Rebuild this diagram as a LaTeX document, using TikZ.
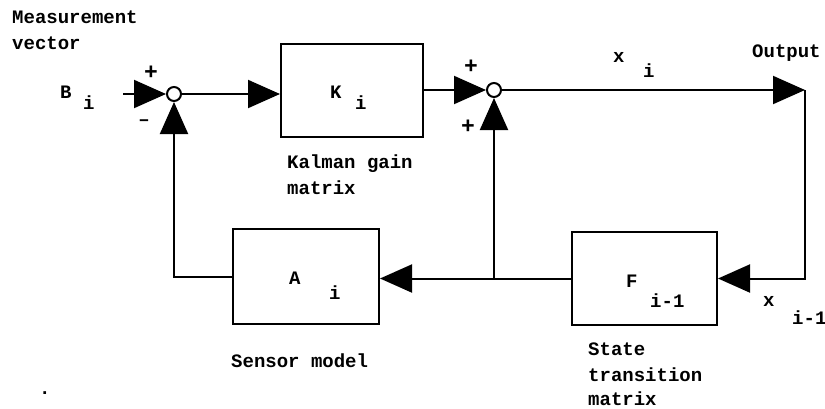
\documentclass[tikz,border=0pt]{standalone}
\usepackage{fontspec}
\newfontfamily\cour{Liberation Mono}
\usetikzlibrary{arrows.meta,calc}
\begin{document}
\begin{tikzpicture}[x=1pt,y=-1pt,
  every node/.style={font=\cour\bfseries\fontsize{19}{19}\selectfont, inner sep=0pt},
  ln/.style={line width=2pt},
  arr/.style={ln,-{Triangle[length=32pt,width=28pt]}},
  block/.style={draw,line width=2pt,anchor=north west},
  sum/.style={draw,circle,line width=2pt,minimum size=14pt,fill=white},
  sign/.style={font=\cour\bfseries\fontsize{23}{23}\selectfont},
  txt/.style={anchor=base west}]
\useasboundingbox (0,0) rectangle (825,408);
% blocks
\node[block,minimum width=142pt,minimum height=93pt] (K) at (280,43) {};
\node[block,minimum width=146pt,minimum height=95pt] (A) at (232,228) {};
\node[block,minimum width=145pt,minimum height=93pt] (F) at (571,231) {};
\node[sum] (s1) at (174,94) {};
\node[sum] (s2) at (494,90) {};
\coordinate (bin) at (123,94);
\coordinate (outc) at (805,90);
\coordinate (junc) at (s2 |- F.west);
% connectors
\draw[arr] (bin) -- (s1.west);
\draw[arr] (s1.east) -- (s1 -| K.west);
\draw[arr] (K.east |- s2) -- (s2.west);
\draw[arr] (s2.east) -- (outc);
\draw[arr] (outc) |- (F.east);
\draw[arr] (F.west) -- (F.west -| A.east);
\draw[arr] (junc) -- (s2.south);
\draw[arr] (A.west) -| (s1.south);
% texts
\node[txt] (t1) at (12,23) {Measurement};
\node[txt] (t2) at (12,49) {vector};
\node[txt] (tB) at (60,98) {B};
\node[txt] (tBi) at (83,109) {i};
\node[sign] (p1) at (151,73) {+};
\node[anchor=base] (m1) at (144,125) {–};
\node[txt] (tK) at (330,98) {K};
\node[txt] (tKi) at (355,109) {i};
\node[txt] (t3) at (287,168) {Kalman gain};
\node[txt] (t4) at (287,194) {matrix};
\node[sign] (p2) at (471,67) {+};
\node[sign] (p3) at (468,127) {+};
\node[txt] (tx) at (613,62) {x};
\node[txt] (txi) at (643,77) {i};
\node[txt] (tout) at (752,57) {Output};
\node[txt] (tA) at (289,284) {A};
\node[txt] (tAi) at (329,299) {i};
\node[txt] (t5) at (231,367) {Sensor model};
\node[txt] (dot) at (39,394) {.};
\node[txt] (tF) at (626,287) {F};
\node[txt] (tFi) at (650,307) {i-1};
\node[txt] (tx2) at (763,306) {x};
\node[txt] (tx2i) at (792,324) {i-1};
\node[txt] (t6) at (588,355) {State};
\node[txt] (t7) at (588,381) {transition};
\node[txt] (t8) at (588,405) {matrix};
\end{tikzpicture}
\end{document}
